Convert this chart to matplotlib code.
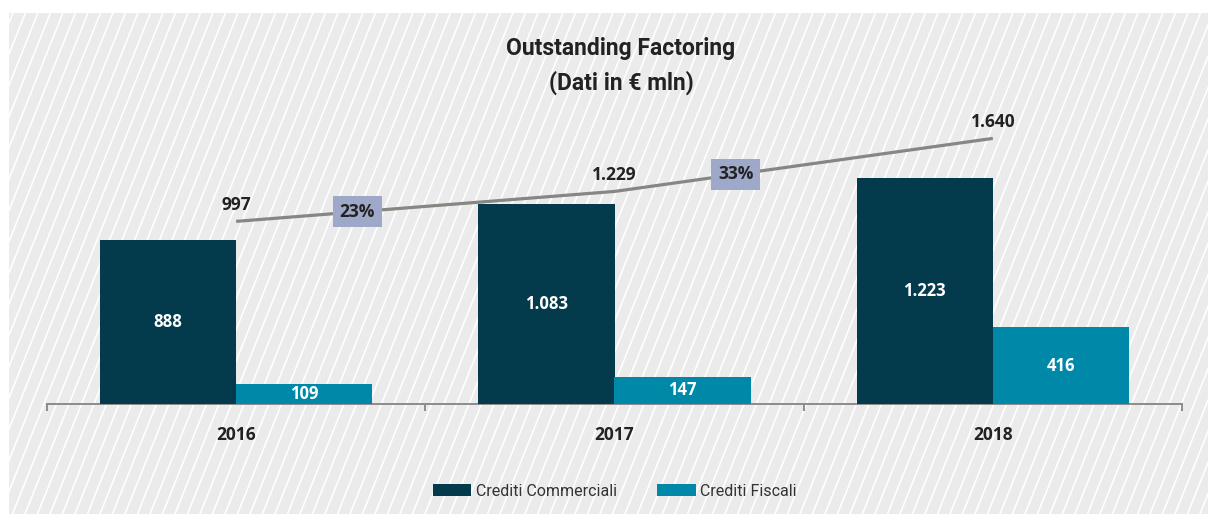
import matplotlib
matplotlib.use("Agg")
import matplotlib.pyplot as plt
from matplotlib import font_manager
from matplotlib.patches import Rectangle, Patch
from matplotlib.lines import Line2D
import numpy as np

# ---- data ----
years = ["2016", "2017", "2018"]
crediti_commerciali = [888, 1083, 1223]
crediti_fiscali = [109, 147, 416]
totals = [997, 1229, 1640]
totals_labels = ["997", "1.229", "1.640"]
comm_labels = ["888", "1.083", "1.223"]
fisc_labels = ["109", "147", "416"]
growth_labels = ["23%", "33%"]
series_names = ["Crediti Commerciali", "Crediti Fiscali"]
title_lines = ["Outstanding Factoring", "(Dati in € mln)"]

# ---- fonts ----
avail = {f.name for f in font_manager.fontManager.ttflist}
title_font = "Liberation Sans Narrow" if "Liberation Sans Narrow" in avail else "Roboto"
body_font = "Open Sans" if "Open Sans" in avail else "DejaVu Sans"
plt.rcParams["font.family"] = [body_font, "DejaVu Sans"]

W, H = 1208, 514
fig = plt.figure(figsize=(W / 100, H / 100), dpi=100)
fig.patch.set_facecolor("white")

# ---- hatched background panel ----
bg = fig.add_axes([0, 0, 1, 1], zorder=0)
bg.set_xlim(0, W)
bg.set_ylim(H, 0)
bg.axis("off")
panel = Rectangle((9, 13), W - 9, H - 13, facecolor="#ebebeb", edgecolor="none")
bg.add_patch(panel)
slope = 2.5
spacing = 12.5
for x0 in np.arange(-400, W + 400, spacing):
    ln = Line2D([x0, x0 + H / slope], [H, 0], color="white", lw=1.2)
    ln.set_clip_path(panel)
    bg.add_line(ln)

# ---- main axes ----
ax = fig.add_axes([47 / W, 1 - 404 / H, (1182 - 47) / W, (404 - 110) / H], zorder=2)
ax.patch.set_alpha(0)
x = np.arange(len(years))
bw = 0.36
dark = "#043b4c"
teal = "#0088a8"
ax.bar(x - 0.18, crediti_commerciali, bw, color=dark, zorder=3)
ax.bar(x + 0.18, crediti_fiscali, bw, color=teal, zorder=3)
ax.set_xlim(-0.5, 2.5)
ax.set_ylim(0, 1590)

for i in range(len(years)):
    ax.text(x[i] - 0.18, crediti_commerciali[i] / 2, comm_labels[i], ha="center", va="center",
            color="white", fontsize=12, fontweight="bold", zorder=4)
    ax.text(x[i] + 0.18, crediti_fiscali[i] / 2, fisc_labels[i], ha="center", va="center",
            color="white", fontsize=12, fontweight="bold", zorder=4)

for s in ["top", "right", "left"]:
    ax.spines[s].set_visible(False)
ax.spines["bottom"].set_color("#8c8c8c")
ax.spines["bottom"].set_linewidth(1.4)
ax.set_yticks([])
ax.set_xticks(x)
ax.set_xticklabels(years, fontsize=12.5, fontweight="bold", color="#222222")
ax.tick_params(axis="x", which="major", length=0, pad=16)
ax.set_xticks([-0.5, 0.5, 1.5, 2.5], minor=True)
ax.tick_params(axis="x", which="minor", length=5, width=1.4, color="#8c8c8c", direction="out")

# ---- totals line on secondary scale ----
ax2 = ax.twinx()
ax2.set_zorder(3)
ax2.patch.set_alpha(0)
ax2.set_ylim(-418, 1860)
ax2.axis("off")
ax2.plot(x, totals, color="#868682", lw=2.3, zorder=3, solid_capstyle="butt")
for i in range(len(years)):
    ax2.text(x[i], totals[i] + 55, totals_labels[i], ha="center", va="bottom",
             fontsize=12.5, fontweight="bold", color="#222222")
for i, g in enumerate(growth_labels):
    gx = x[i] + 0.32
    gy = totals[i] + 0.32 * (totals[i + 1] - totals[i])
    ax2.text(gx, gy, g, ha="center", va="center", fontsize=12.5, fontweight="bold",
             color="#222222", zorder=5,
             bbox=dict(boxstyle="square,pad=0.38", facecolor="#9ea8c8", edgecolor="none"))

# ---- title ----
fig.text(621 / W, 1 - 48 / H, title_lines[0], ha="center", va="center",
         fontsize=16.5, fontweight="bold", family=[title_font, "DejaVu Sans"], color="#222222")
fig.text(621 / W, 1 - 83 / H, title_lines[1], ha="center", va="center",
         fontsize=16.5, fontweight="bold", family=[title_font, "DejaVu Sans"], color="#222222")

# ---- legend ----
handles = [Patch(facecolor=dark, edgecolor="none"), Patch(facecolor=teal, edgecolor="none")]
leg = fig.legend(handles, series_names, loc="center", bbox_to_anchor=(615 / W, 1 - 491 / H),
                 ncol=2, frameon=False, handlelength=2.4, handleheight=0.85,
                 handletextpad=0.3, columnspacing=2.5,
                 prop={"family": [title_font, "DejaVu Sans"], "size": 11.5})
for t in leg.get_texts():
    t.set_color("#333333")

fig.savefig("out.png", dpi=100)
